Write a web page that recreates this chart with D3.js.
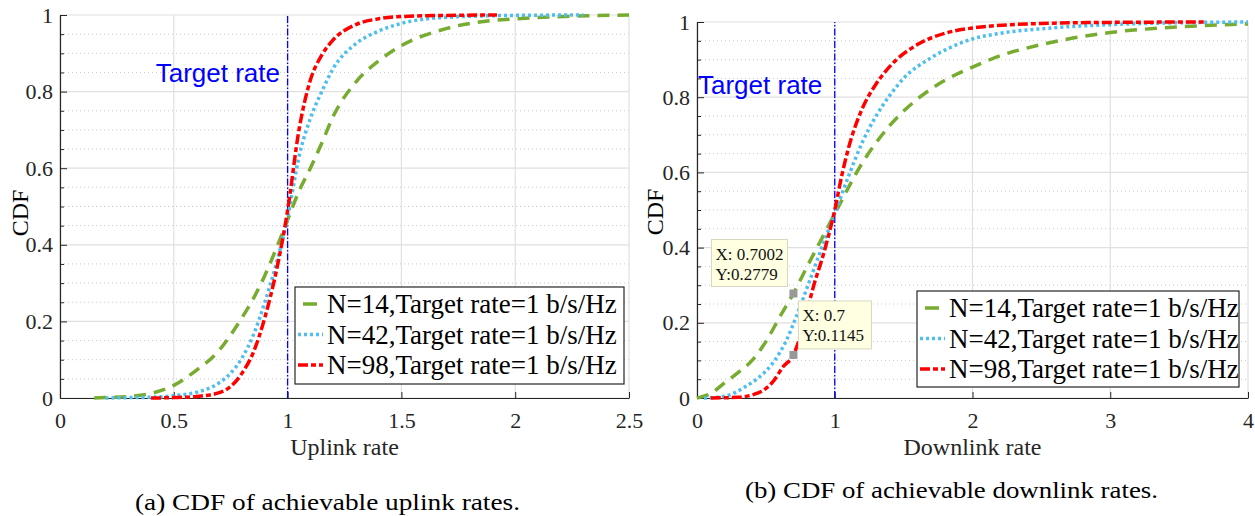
<!DOCTYPE html>
<meta charset="utf-8">
<head>
  <script src="https://cdn.jsdelivr.net/npm/d3@7"></script>
  <style>
    body { margin: 0; background: #fff; }
    text { font-family: "Liberation Serif", "Times New Roman", serif; fill: #262626; }
  </style>
</head>
<body>
<div id="chart"></div>
<script>
// ---- data ----
// (a) uplink
const upX14 = [0.15,0.2,0.3,0.4,0.5,0.6,0.7,0.75,0.8,0.85,0.9,0.95,1.0,1.05,1.1,1.15,1.2,1.3,1.4,1.5,1.7,2.0,2.5];
const upN14 = [0,0.001,0.004,0.012,0.033,0.073,0.125,0.165,0.21,0.26,0.32,0.39,0.465,0.54,0.6,0.665,0.735,0.825,0.88,0.92,0.965,0.99,1.0];
const upX42 = [0.2,0.3,0.4,0.5,0.6,0.7,0.75,0.8,0.85,0.9,0.95,1.0,1.05,1.1,1.15,1.2,1.3,1.4,1.5,1.7,2.0,2.3];
const upN42 = [0,0.001,0.002,0.006,0.015,0.04,0.065,0.105,0.165,0.25,0.35,0.47,0.63,0.73,0.8,0.86,0.925,0.958,0.978,0.994,0.999,1.0];
const upX98 = [0.4,0.5,0.6,0.7,0.75,0.8,0.85,0.9,0.95,1.0,1.05,1.1,1.15,1.2,1.3,1.4,1.5,1.7,1.92];
const upN98 = [0,0.001,0.004,0.014,0.03,0.065,0.12,0.21,0.33,0.49,0.7,0.83,0.895,0.935,0.975,0.99,0.996,0.999,1.0];

// (b) downlink
const dnX14 = [0,0.1,0.2,0.3,0.4,0.5,0.6,0.7,0.8,0.9,1.0,1.2,1.4,1.6,1.8,2.0,2.2,2.5,3.0,3.5,4.0];
const dnN14 = [0,0.012,0.04,0.068,0.1,0.15,0.215,0.2779,0.35,0.42,0.49,0.625,0.725,0.795,0.845,0.88,0.91,0.94,0.972,0.987,0.995];
const dnX42 = [0.05,0.15,0.25,0.35,0.45,0.55,0.65,0.72,0.82,0.9,1.0,1.1,1.2,1.3,1.4,1.5,1.7,1.9,2.0,2.2,2.5,3.0,3.5,4.0];
const dnN42 = [0,0.002,0.01,0.03,0.055,0.093,0.154,0.216,0.314,0.394,0.49,0.59,0.68,0.75,0.805,0.85,0.905,0.942,0.955,0.97,0.982,0.993,0.998,1.0];
const dnX98 = [0.1,0.3,0.4,0.48,0.55,0.625,0.7,0.77,0.845,0.92,1.0,1.05,1.1,1.2,1.3,1.4,1.6,1.8,2.0,2.5,3.0,3.7];
const dnN98 = [0,0.002,0.008,0.02,0.043,0.083,0.1145,0.19,0.296,0.385,0.5,0.59,0.665,0.77,0.835,0.882,0.94,0.97,0.984,0.996,0.999,1.0];

const legendLabels = ["N=14,Target rate=1 b/s/Hz", "N=42,Target rate=1 b/s/Hz", "N=98,Target rate=1 b/s/Hz"];
const yTicks = [0, 0.2, 0.4, 0.6, 0.8, 1];
const upXTicks = [0, 0.5, 1, 1.5, 2, 2.5];
const dnXTicks = [0, 1, 2, 3, 4];
const targetRate = 1;
const dataTips = [[0.7002, 0.2779], [0.7, 0.1145]];

// ---- styles ----
const styles = [
  {color: "#77AC30", dash: "12,8", width: 3.5},
  {color: "#4DBEEE", dash: "3,3", width: 3.5},
  {color: "#FF0000", dash: "10,3,5,3", width: 3.5}
];

const svg = d3.select("#chart").append("svg")
  .attr("width", 1255).attr("height", 516);

function drawPanel(p) {
  const x = d3.scaleLinear().domain(p.xDomain).range(p.xRange);
  const y = d3.scaleLinear().domain([0, 1]).range(p.yRange);
  const g = svg.append("g");

  // minor grid (dotted)
  const minor = d3.range(0.05, 1, 0.05).filter(v => Math.abs(v * 5 - Math.round(v * 5)) > 1e-6);
  g.selectAll(".minor").data(minor).join("line")
    .attr("x1", p.xRange[0]).attr("x2", p.xRange[1])
    .attr("y1", d => y(d)).attr("y2", d => y(d))
    .attr("stroke", "#c8c8c8").attr("stroke-width", 1).attr("stroke-dasharray", "1,3");
  // major grid
  g.selectAll(".gy").data(yTicks).join("line")
    .attr("x1", p.xRange[0]).attr("x2", p.xRange[1])
    .attr("y1", d => y(d)).attr("y2", d => y(d))
    .attr("stroke", "#e0e0e0").attr("stroke-width", 1.2);
  g.selectAll(".gx").data(p.xTicks).join("line")
    .attr("x1", d => x(d)).attr("x2", d => x(d))
    .attr("y1", p.yRange[0]).attr("y2", p.yRange[1])
    .attr("stroke", "#e0e0e0").attr("stroke-width", 1.2);

  // axes
  const fmt = d3.format("~g");
  const ax = g.append("g").attr("transform", `translate(0,${p.yRange[0]})`)
    .call(d3.axisBottom(x).tickValues(p.xTicks).tickFormat(fmt).tickSizeInner(-6).tickSizeOuter(0).tickPadding(14));
  const ay = g.append("g").attr("transform", `translate(${p.xRange[0]},0)`)
    .call(d3.axisLeft(y).tickValues(yTicks).tickFormat(fmt).tickSizeInner(-7).tickSizeOuter(0).tickPadding(7));
  g.append("g").attr("transform", `translate(${p.xRange[0]},0)`)
    .call(d3.axisLeft(y).tickValues(minor).tickFormat("").tickSizeInner(-4).tickSizeOuter(0))
    .select(".domain").remove();
  g.selectAll(".domain").attr("stroke", "#262626").attr("stroke-width", 1.2);
  g.selectAll(".tick line").attr("stroke", "#262626");
  [ax, ay].forEach(a => a.attr("font-family", null).attr("font-size", null)
    .selectAll("text")
    .style("font-family", "'Liberation Serif', serif").style("font-size", "22px").style("fill", "#262626"));

  // target line
  g.append("line")
    .attr("x1", x(targetRate)).attr("x2", x(targetRate))
    .attr("y1", y(0)).attr("y2", y(1))
    .attr("stroke", "#0000FF").attr("stroke-width", 1.3).attr("stroke-dasharray", "7,2,1.5,2");
  g.append("text").attr("x", p.targetPos[0]).attr("y", p.targetPos[1])
    .attr("text-anchor", p.targetAnchor)
    .style("font-family", "Liberation Sans, Arial, sans-serif").style("fill", "#0000FF")
    .attr("font-size", 26).text("Target rate");

  // curves
  const line = d3.line().x(d => x(d[0])).y(d => y(d[1])).curve(d3.curveMonotoneX);
  p.series.forEach((s, i) => {
    g.append("path").datum(d3.zip(s[0], s[1]))
      .attr("d", line).attr("fill", "none")
      .attr("stroke", styles[i].color).attr("stroke-width", styles[i].width)
      .attr("stroke-dasharray", styles[i].dash);
  });

  // data tips
  if (p.tips) {
    p.tips.forEach((t, i) => {
      const box = p.tipBoxes[i];
      const tg = g.append("g");
      tg.append("rect").attr("x", x(t[0]) + box[0]).attr("y", y(t[1]) + box[1])
        .attr("width", box[2]).attr("height", box[3])
        .attr("fill", "#FFFFE1").attr("stroke", "#d8d8c0").attr("stroke-width", 1);
      tg.append("text").attr("x", x(t[0]) + box[0] + 4).attr("y", y(t[1]) + box[1] + 20)
        .attr("font-size", 17).style("fill", "#111").text("X: " + t[0]);
      tg.append("text").attr("x", x(t[0]) + box[0] + 4).attr("y", y(t[1]) + box[1] + 40)
        .attr("font-size", 17).style("fill", "#111").text("Y:" + t[1]);
      g.append("rect").attr("x", x(t[0]) - 4).attr("y", y(t[1]) - 4)
        .attr("width", 8).attr("height", 8).attr("fill", "#999");
    });
  }

  // legend
  const L = p.legend;
  const lg = g.append("g");
  lg.append("rect").attr("x", L.x).attr("y", L.y).attr("width", L.w).attr("height", L.h)
    .attr("fill", "#fff").attr("stroke", "#262626").attr("stroke-width", 1.2);
  legendLabels.forEach((lab, i) => {
    const cy = L.y + 17 + i * 30.5;
    lg.append("line").attr("x1", L.x + 3).attr("x2", L.x + 28)
      .attr("y1", cy).attr("y2", cy)
      .attr("stroke", styles[i].color).attr("stroke-width", styles[i].width)
      .attr("stroke-dasharray", i === 0 ? "0,5,14,20" : styles[i].dash);
    lg.append("text").attr("x", L.x + 32).attr("y", cy + 9)
      .attr("font-size", 27).style("fill", "#000").text(lab);
  });

  // axis labels
  g.append("text").attr("x", (p.xRange[0] + p.xRange[1]) / 2).attr("y", 455)
    .attr("text-anchor", "middle").attr("font-size", 24).text(p.xLabel);
  g.append("text").attr("transform", `translate(${p.yLabelX},${p.yLabelY}) rotate(-90)`)
    .attr("text-anchor", "middle").attr("font-size", 24).style("fill", "#000").text("CDF");

  g.append("text").attr("x", p.caption[1]).attr("y", p.caption[2])
    .attr("font-size", 23).attr("textLength", p.caption[3]).attr("lengthAdjust", "spacingAndGlyphs")
    .style("fill", "#000").text(p.caption[0]);
}

drawPanel({
  xDomain: [0, 2.5], xRange: [60, 629], yRange: [398, 15], xTicks: upXTicks,
  series: [[upX14, upN14], [upX42, upN42], [upX98, upN98]],
  targetPos: [280, 82], targetAnchor: "end",
  legend: {x: 295, y: 287, w: 329, h: 97},
  xLabel: "Uplink rate", yLabelX: 28, yLabelY: 213,
  caption: ["(a) CDF of achievable uplink rates.", 135, 510, 385]
});

drawPanel({
  xDomain: [0, 4], xRange: [697, 1248], yRange: [398, 22], xTicks: dnXTicks,
  series: [[dnX14, dnN14], [dnX42, dnN42], [dnX98, dnN98]],
  targetPos: [698, 94], targetAnchor: "start",
  tips: dataTips, tipBoxes: [[-82, -54, 76, 47], [5, -54, 73, 48]],
  legend: {x: 917, y: 291, w: 322, h: 96},
  xLabel: "Downlink rate", yLabelX: 663, yLabelY: 212,
  caption: ["(b) CDF of achievable downlink rates.", 745, 498, 413]
});
</script>
</body>
